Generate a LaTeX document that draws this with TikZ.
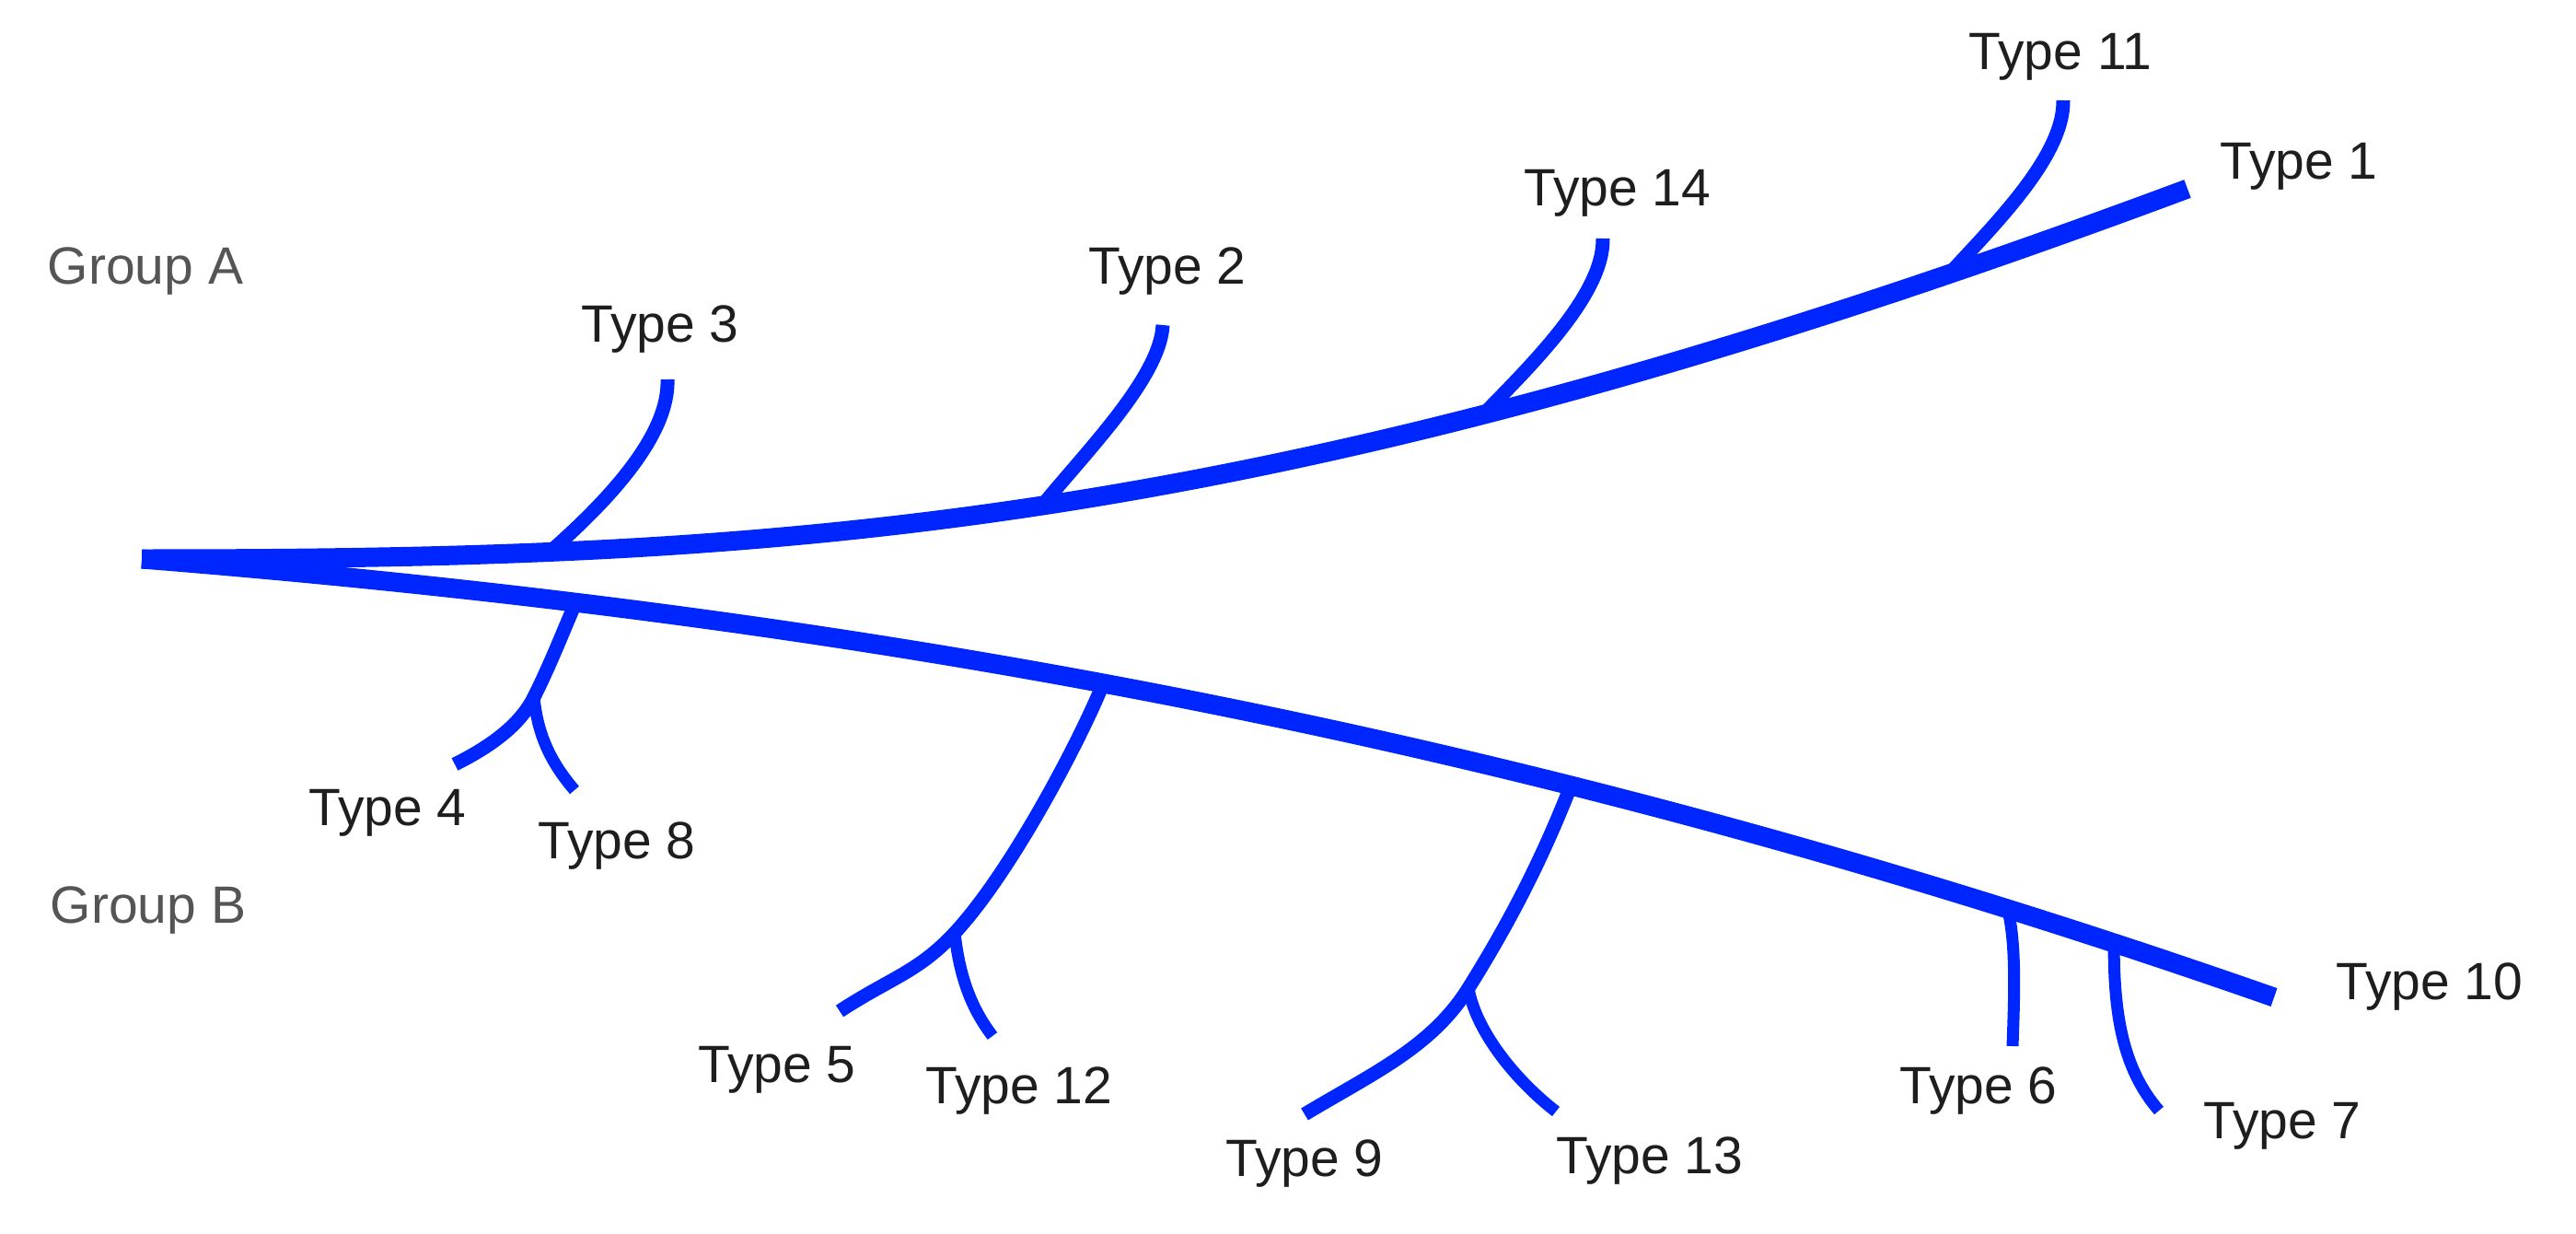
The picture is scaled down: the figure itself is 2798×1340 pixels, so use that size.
\documentclass[tikz,border=0pt]{standalone}
\usepackage{fontspec}
\setmainfont{Liberation Sans}
\definecolor{treeblue}{RGB}{0,38,255}
\definecolor{labelgray}{RGB}{85,85,85}
\definecolor{labelblack}{RGB}{30,30,30}
\tikzset{
  mainline/.style={draw=treeblue, line width=21pt},
  branchline/.style={draw=treeblue, line width=15pt},
  subline/.style={draw=treeblue, line width=13pt},
  typelabel/.style={text=labelblack, font=\fontsize{57}{68}\selectfont, inner sep=0pt},
  grouplabel/.style={text=labelgray, font=\fontsize{57}{68}\selectfont, inner sep=0pt}
}
\begin{document}
\begin{tikzpicture}[x=1pt,y=-1pt]
\useasboundingbox (0,0) rectangle (2798,1340);
% end points
\coordinate (root) at (154,607);
\coordinate (e1) at (2376,205);
\coordinate (e10) at (2470,1083);
% fork points on the two main curves
\path (root) .. controls (854,607) and (1376,578) .. (e1)
  coordinate[pos=0.22] (f3) coordinate[pos=0.49] (f2)
  coordinate[pos=0.71] (f14) coordinate[pos=0.91] (f11);
\path (root) .. controls (954,671) and (1670,803) .. (e10)
  coordinate[pos=0.2] (f48) coordinate[pos=0.45] (f512)
  coordinate[pos=0.673] (f913) coordinate[pos=0.878] (f6)
  coordinate[pos=0.927] (f7);
% sub-forks and tips
\coordinate (s48) at (580,757);
\coordinate (s512) at (1037,1013);
\coordinate (s913) at (1595,1073);
\coordinate (e3) at (725,412);
\coordinate (e2) at (1263,353);
\coordinate (e14) at (1741,259);
\coordinate (e11) at (2241,109);
\coordinate (e4) at (494,830);
\coordinate (e8) at (624,858);
\coordinate (e5) at (912,1098);
\coordinate (e12) at (1078,1125);
\coordinate (e9) at (1417,1210);
\coordinate (e13) at (1690,1207);
\coordinate (e6) at (2186,1136);
\coordinate (e7) at (2345,1206);

% branches
\draw[branchline] (f3) .. controls (667,538) and (727,470) .. (e3);
\draw[branchline] (f2) .. controls (1180,490) and (1260,410) .. (e2);
\draw[branchline] (f14) .. controls (1668,392) and (1742,318) .. (e14);
\draw[branchline] (f11) .. controls (2165,245) and (2242,170) .. (e11);

\draw[branchline] (f48) .. controls (608,695) and (596,725) .. (s48)
   .. controls (564,789) and (530,812) .. (e4);
\draw[subline] (s48) .. controls (584,800) and (600,830) .. (e8);

\draw[branchline] (f512) .. controls (1175,800) and (1100,945) .. (s512)
   .. controls (997,1056) and (967,1062) .. (e5);
\draw[subline] (s512) .. controls (1042,1060) and (1055,1095) .. (e12);

\draw[branchline] (f913) .. controls (1675,933) and (1640,1001) .. (s913)
   .. controls (1555,1137) and (1492,1165) .. (e9);
\draw[subline] (s913) .. controls (1602,1115) and (1640,1168) .. (e13);

\draw[subline] (f6) .. controls (2190,1025) and (2188,1080) .. (e6);
\draw[subline] (f7) .. controls (2296,1100) and (2305,1160) .. (e7);

% main lines
\draw[mainline] (root) .. controls (854,607) and (1376,578) .. (e1);
\draw[mainline] (root) .. controls (954,671) and (1670,803) .. (e10);

% labels
\node[grouplabel] (ga) at (158,295) {Group A};
\node[grouplabel] (gb) at (161,989) {Group B};
\node[typelabel] (t3) at (717,358) {Type 3};
\node[typelabel] (t2) at (1268,295) {Type 2};
\node[typelabel] (t14) at (1757,210) {Type 14};
\node[typelabel] (t11) at (2238,62) {Type 11};
\node[typelabel] (t1) at (2497,181) {Type 1};
\node[typelabel] (t4) at (421,883) {Type 4};
\node[typelabel] (t8) at (670,919) {Type 8};
\node[typelabel] (t5) at (844,1162) {Type 5};
\node[typelabel] (t12) at (1107,1185) {Type 12};
\node[typelabel] (t9) at (1417,1264) {Type 9};
\node[typelabel] (t13) at (1792,1261) {Type 13};
\node[typelabel] (t6) at (2149,1185) {Type 6};
\node[typelabel] (t7) at (2479,1223) {Type 7};
\node[typelabel] (t10) at (2639,1072) {Type 10};
\end{tikzpicture}
\end{document}
